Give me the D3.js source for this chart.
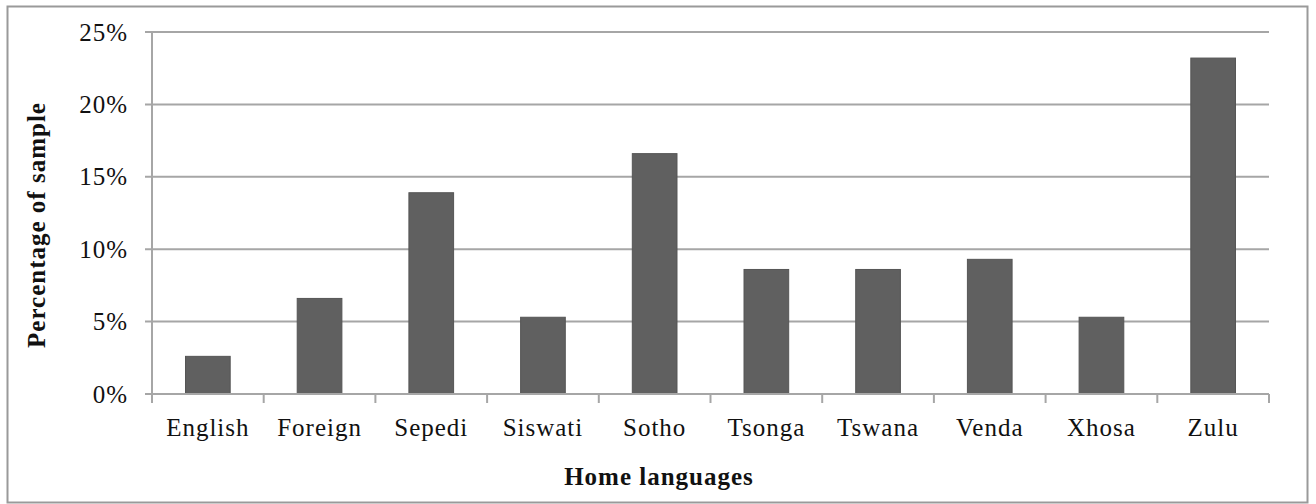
<html>
<head>
<script src="https://d3js.org/d3.v7.min.js"></script>
<style>
  body { margin: 0; background: white; }
  svg { display: block; }
  .tick text { font-family: "Liberation Serif", "Times New Roman", serif; font-size: 25px; fill: #111; letter-spacing: 1px; }
  .axis-title { font-family: "Liberation Serif", "Times New Roman", serif; font-size: 25px; font-weight: bold; fill: #111; letter-spacing: 1px; }
</style>
</head>
<body>
<svg id="chart" width="1316" height="504"></svg>
<script>
// home languages and share of sample (%)
const languages = ["English", "Foreign", "Sepedi", "Siswati", "Sotho", "Tsonga", "Tswana", "Venda", "Xhosa", "Zulu"];
const shares = [2.6, 6.6, 13.9, 5.3, 16.6, 8.6, 8.6, 9.3, 5.3, 23.2];
const yTicks = [0, 5, 10, 15, 20, 25];

const svg = d3.select("#chart");
const plotLeft = 152, plotRight = 1269, plotTop = 32, plotBottom = 394;

// outer frame
svg.append("rect")
    .attr("x", 7.5).attr("y", 6.5)
    .attr("width", 1300).attr("height", 496)
    .attr("fill", "white")
    .attr("stroke", "#9a9a9a")
    .attr("stroke-width", 2);

const x = d3.scaleBand()
    .domain(languages)
    .range([plotLeft, plotRight])
    .paddingInner(0.6)
    .paddingOuter(0.3);

const y = d3.scaleLinear()
    .domain([0, 25])
    .range([plotBottom, plotTop]);

// gridlines
svg.append("g")
    .selectAll("line")
    .data(yTicks)
    .join("line")
    .attr("x1", plotLeft - 7)
    .attr("x2", plotRight)
    .attr("y1", d => y(d))
    .attr("y2", d => y(d))
    .attr("stroke", "#a6a6a6")
    .attr("stroke-width", 2);

// y axis labels
const yAxis = svg.append("g")
    .attr("transform", `translate(${plotLeft},0)`)
    .call(d3.axisLeft(y).tickValues(yTicks).tickFormat(d => d + "%").tickSize(0).tickPadding(24));
yAxis.select(".domain").remove();
yAxis.selectAll("text").attr("dy", "0.32em");

svg.append("line")
    .attr("x1", plotLeft).attr("x2", plotLeft)
    .attr("y1", plotTop).attr("y2", plotBottom)
    .attr("stroke", "#a6a6a6")
    .attr("stroke-width", 2);

// bars
svg.append("g")
    .selectAll("rect")
    .data(shares)
    .join("rect")
    .attr("x", (d, i) => x(languages[i]))
    .attr("y", d => y(d))
    .attr("width", x.bandwidth())
    .attr("height", d => plotBottom - y(d))
    .attr("fill", "#606060")
    .attr("stroke", "#555")
    .attr("stroke-width", 1);

// x axis with ticks at category boundaries
const step = (plotRight - plotLeft) / languages.length;
svg.append("g")
    .selectAll("line")
    .data(d3.range(languages.length + 1))
    .join("line")
    .attr("x1", i => plotLeft + i * step)
    .attr("x2", i => plotLeft + i * step)
    .attr("y1", plotBottom)
    .attr("y2", plotBottom + 9)
    .attr("stroke", "#a6a6a6")
    .attr("stroke-width", 2);

const xAxis = svg.append("g")
    .attr("transform", `translate(0,${plotBottom})`)
    .call(d3.axisBottom(x).tickSize(0).tickPadding(24));
xAxis.select(".domain").remove();
xAxis.selectAll("text").attr("dy", "0.71em");

svg.append("line")
    .attr("x1", plotLeft).attr("x2", plotRight)
    .attr("y1", plotBottom).attr("y2", plotBottom)
    .attr("stroke", "#a6a6a6")
    .attr("stroke-width", 2);

// axis titles
svg.append("text")
    .attr("class", "axis-title")
    .attr("x", 659)
    .attr("y", 485)
    .attr("text-anchor", "middle")
    .text("Home languages");

svg.append("text")
    .attr("class", "axis-title")
    .attr("transform", "translate(45,225) rotate(-90)")
    .attr("text-anchor", "middle")
    .text("Percentage of sample");
</script>
</body>
</html>
